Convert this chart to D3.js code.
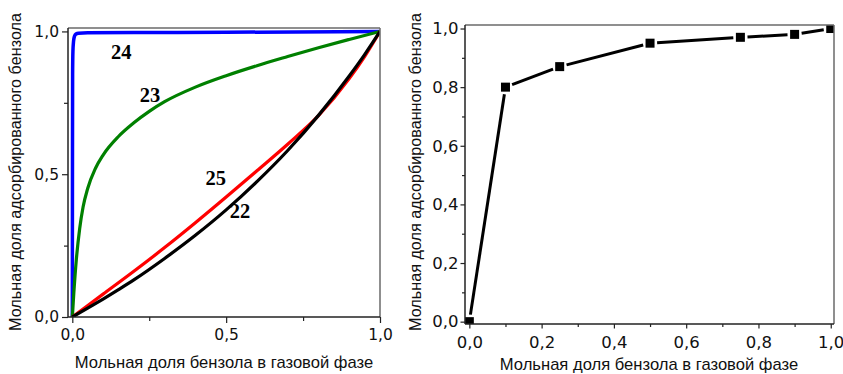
<!DOCTYPE html>
<html>
<head>
<meta charset="utf-8">
<script src="https://cdn.jsdelivr.net/npm/d3@7"></script>
<style>
  body { margin: 0; background: #fff; }
  svg { display: block; font-family: Arial, "Liberation Sans", sans-serif; }
  .tick text { fill: #111; font-family: "DejaVu Sans", sans-serif; }
  .tick line { stroke: #222; stroke-width: 1.2; }
</style>
</head>
<body>
<svg id="chart" width="843" height="374"></svg>
<script>
// left panel: model curves
var curve24X = [0, 0.0005, 0.001, 0.002, 0.004, 0.007, 0.012, 0.02, 0.05, 0.2, 0.5, 1.0];
var curve24Y = [0, 0.5, 0.85, 0.93, 0.965, 0.983, 0.991, 0.994, 0.995, 0.996, 0.997, 1.0];

var curve23X = [0, 0.005, 0.013, 0.024, 0.035, 0.05, 0.075, 0.1, 0.15, 0.2, 0.25, 0.3, 0.4, 0.5, 0.6, 0.7, 0.8, 0.9, 1.0];
var curve23Y = [0, 0.085, 0.2, 0.31, 0.385, 0.45, 0.52, 0.567, 0.632, 0.68, 0.72, 0.754, 0.805, 0.845, 0.88, 0.912, 0.943, 0.972, 1.0];

var curve25X = [0, 0.1, 0.2, 0.3, 0.4, 0.5, 0.6, 0.7, 0.8, 0.9, 0.95, 1.0];
var curve25Y = [0, 0.08, 0.16, 0.243, 0.33, 0.42, 0.512, 0.605, 0.705, 0.835, 0.912, 1.0];

var curve22X = [0, 0.05, 0.1, 0.15, 0.2, 0.3, 0.4, 0.5, 0.6, 0.7, 0.8, 0.9, 0.95, 1.0];
var curve22Y = [0, 0.031, 0.063, 0.096, 0.13, 0.205, 0.286, 0.375, 0.474, 0.583, 0.706, 0.844, 0.919, 1.0];

var curveNames  = ['24', '23', '25', '22'];
var curveColors = ['#0000ff', '#008000', '#ff0000', '#000000'];
// where the curve numbers sit (data coords, text baseline)
var labelX = [0.159, 0.2525, 0.466, 0.545];
var labelY = [0.903, 0.754, 0.462, 0.345];

var leftTicks  = [0, 0.5, 1.0];
var leftMinor  = [0.25, 0.75];

// right panel: measured points
var pointsX = [0, 0.1, 0.25, 0.5, 0.75, 0.9, 1.0];
var pointsY = [0, 0.8, 0.87, 0.95, 0.97, 0.98, 1.0];
var rightTicks = [0, 0.2, 0.4, 0.6, 0.8, 1.0];
var rightMinor = [0.1, 0.3, 0.5, 0.7, 0.9];

var xTitle = 'Мольная доля бензола в газовой фазе';
var yTitle = 'Мольная доля адсорбированного бензола';

var svg = d3.select('#chart');
var fmt = function(d) { return d3.format('.1f')(d).replace('.', ','); };

function zipXY(xs, ys) {
  return xs.map(function(x, i) { return [x, ys[i]]; });
}

function drawFrame(g, x, y, id) {
  var x0 = x.range()[0], x1 = x.range()[1],
      y0 = y.range()[0], y1 = y.range()[1];
  g.append('clipPath').attr('id', id)
    .append('rect')
      .attr('x', x0).attr('y', y1)
      .attr('width', x1 - x0).attr('height', y0 - y1);
  // top and right sides are grey, axes are black
  g.append('line').attr('x1', x0).attr('x2', x1).attr('y1', y1).attr('y2', y1)
    .attr('stroke', '#6a6a6a').attr('stroke-width', 1.5);
  g.append('line').attr('x1', x1).attr('x2', x1).attr('y1', y1).attr('y2', y0)
    .attr('stroke', '#6a6a6a').attr('stroke-width', 1.5);
  g.append('line').attr('x1', x0).attr('x2', x0).attr('y1', y1).attr('y2', y0)
    .attr('stroke', '#222').attr('stroke-width', 1.5);
  g.append('line').attr('x1', x0).attr('x2', x1).attr('y1', y0).attr('y2', y0)
    .attr('stroke', '#222').attr('stroke-width', 1.5);
}

function drawAxes(g, x, y, major, minor, opt) {
  var bottom = y.range()[0], left = x.range()[0];

  g.append('g').attr('transform', 'translate(0,' + bottom + ')')
    .call(d3.axisBottom(x).tickValues(major).tickSize(opt.size).tickPadding(opt.xPad).tickFormat(fmt))
    .call(function(a) { a.select('.domain').remove(); })
    .selectAll('text').style('font-size', opt.font + 'px');
  g.append('g').attr('transform', 'translate(0,' + bottom + ')')
    .call(d3.axisBottom(x).tickValues(minor).tickSize(opt.minor).tickFormat(''))
    .select('.domain').remove();

  g.append('g').attr('transform', 'translate(' + left + ',0)')
    .call(d3.axisLeft(y).tickValues(major).tickSize(opt.size).tickPadding(opt.yPad).tickFormat(fmt))
    .call(function(a) { a.select('.domain').remove(); })
    .selectAll('text').style('font-size', opt.font + 'px');
  g.append('g').attr('transform', 'translate(' + left + ',0)')
    .call(d3.axisLeft(y).tickValues(minor).tickSize(opt.minor).tickFormat(''))
    .select('.domain').remove();
}

function drawTitles(g, cx, by, tx, cy) {
  g.append('text')
    .attr('x', cx).attr('y', by)
    .attr('text-anchor', 'middle')
    .style('font-size', '16.6px').attr('fill', '#111')
    .text(xTitle);
  g.append('text')
    .attr('transform', 'translate(' + tx + ',' + cy + ') rotate(-90)')
    .attr('text-anchor', 'middle')
    .style('font-size', '16.2px').attr('fill', '#111')
    .text(yTitle);
}

// ---------- left panel ----------
var xL = d3.scaleLinear().domain([-0.014, 1.0]).range([68, 380]);
var yL = d3.scaleLinear().domain([0, 1.012]).range([317, 28]);
var gL = svg.append('g');

var curves = [
  zipXY(curve24X, curve24Y),
  zipXY(curve23X, curve23Y),
  zipXY(curve25X, curve25Y),
  zipXY(curve22X, curve22Y)
];

var lineL = d3.line()
  .x(function(d) { return xL(d[0]); })
  .y(function(d) { return yL(d[1]); })
  .curve(d3.curveMonotoneX);

gL.append('g').attr('clip-path', 'url(#clipL)')
  .selectAll('path')
  .data(curves)
  .enter()
  .append('path')
    .attr('d', lineL)
    .attr('fill', 'none')
    .attr('stroke', function(d, i) { return curveColors[i]; })
    .attr('stroke-width', function(d, i) { return i === 0 ? 3.5 : 3.2; })
    .attr('stroke-linejoin', 'round');

drawFrame(gL, xL, yL, 'clipL');
drawAxes(gL, xL, yL, leftTicks, leftMinor, {size: 6, minor: 4, xPad: 6, yPad: 3, font: 15.5});

gL.selectAll('.curvelabel')
  .data(curveNames)
  .enter()
  .append('text')
    .attr('class', 'curvelabel')
    .attr('x', function(d, i) { return xL(labelX[i]); })
    .attr('y', function(d, i) { return yL(labelY[i]); })
    .attr('text-anchor', 'middle')
    .style('font-family', '"Liberation Serif", "Times New Roman", serif')
    .style('font-weight', 'bold')
    .style('font-size', '20.5px')
    .text(function(d) { return d; });

drawTitles(gL, 224, 368, 21, 172);

// ---------- right panel ----------
var xR = d3.scaleLinear().domain([-0.012, 1.009]).range([465, 834]);
var yR = d3.scaleLinear().domain([-0.008, 1.012]).range([324, 25]);
var gR = svg.append('g');

var pts = zipXY(pointsX, pointsY);
var half = 4.5, gap = 2.6;

// connecting segments, cut short near each marker
var segs = d3.pairs(pts).map(function(p) {
  var ax = xR(p[0][0]), ay = yR(p[0][1]),
      bx = xR(p[1][0]), by = yR(p[1][1]);
  var len = Math.hypot(bx - ax, by - ay),
      ux = (bx - ax) / len, uy = (by - ay) / len,
      cut = half + gap;
  return [ax + ux * cut, ay + uy * cut, bx - ux * cut, by - uy * cut];
});

var plotR = gR.append('g').attr('clip-path', 'url(#clipR)');

plotR.selectAll('line.seg')
  .data(segs)
  .enter()
  .append('line')
    .attr('class', 'seg')
    .attr('x1', function(s) { return s[0]; })
    .attr('y1', function(s) { return s[1]; })
    .attr('x2', function(s) { return s[2]; })
    .attr('y2', function(s) { return s[3]; })
    .attr('stroke', '#000')
    .attr('stroke-width', 3);

plotR.selectAll('rect.mark')
  .data(pts)
  .enter()
  .append('rect')
    .attr('class', 'mark')
    .attr('x', function(p) { return xR(p[0]) - half; })
    .attr('y', function(p) { return yR(p[1]) - half; })
    .attr('width', half * 2)
    .attr('height', half * 2)
    .attr('fill', '#000');

drawFrame(gR, xR, yR, 'clipR');
drawAxes(gR, xR, yR, rightTicks, rightMinor, {size: 4.5, minor: 3, xPad: 7.5, yPad: 2, font: 16.5});

drawTitles(gR, 649, 370, 421, 172);
</script>
</body>
</html>
